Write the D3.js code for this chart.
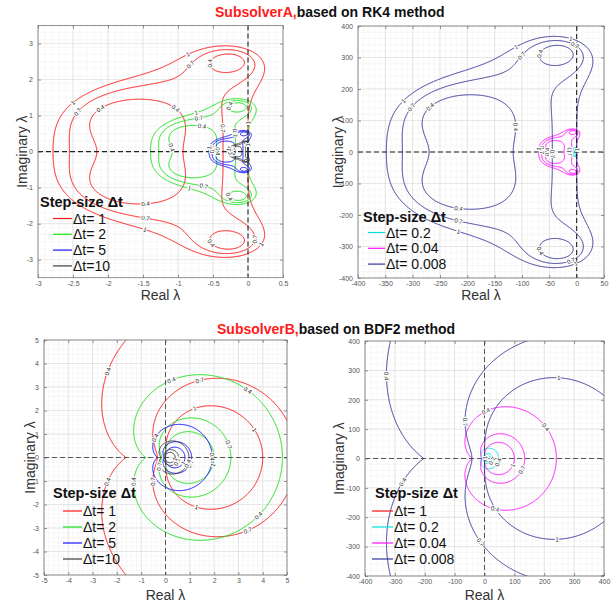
<!DOCTYPE html>
<html><head><meta charset="utf-8">
<script src="https://cdn.jsdelivr.net/npm/d3@7"></script>
<style>
body{margin:0;background:#fff}
svg{display:block}
text{font-family:"Liberation Sans",Arial,Helvetica,sans-serif}
</style>
</head><body>
<svg id="c" width="612" height="602"></svg>
<script>
// ---------------- data ----------------
const levels = [0.4, 0.7, 1];
const stepsA1 = [1, 2, 5, 10];
const stepsA2 = [0.2, 0.04, 0.008];
const stepsB1 = [1, 2, 5, 10];
const stepsB2 = [1, 0.2, 0.04, 0.008];
const legendA1 = ["\u0394t= 1", "\u0394t= 2", "\u0394t= 5", "\u0394t=10"];
const legendA2 = ["\u0394t= 0.2", "\u0394t= 0.04", "\u0394t= 0.008"];
const legendB1 = ["\u0394t= 1", "\u0394t= 2", "\u0394t= 5", "\u0394t=10"];
const legendB2 = ["\u0394t= 1", "\u0394t= 0.2", "\u0394t= 0.04", "\u0394t= 0.008"];
const xTicksA1 = [-3, -2.5, -2, -1.5, -1, -0.5, 0, 0.5];
const yTicksA1 = [-3, -2, -1, 0, 1, 2, 3];
const xTicksA2 = [-400, -350, -300, -250, -200, -150, -100, -50, 0, 50];
const yTicksA2 = [-400, -300, -200, -100, 0, 100, 200, 300, 400];
const ticksB1 = [-5, -4, -3, -2, -1, 0, 1, 2, 3, 4, 5];
const ticksB2 = [-400, -300, -200, -100, 0, 100, 200, 300, 400];
const titleA = ["SubsolverA,", "based on RK4 method"];
const titleB = ["SubsolverB,", "based on BDF2 method"];
const legendTitle = "Step-size \u0394t";
const xLabel = "Real \u03bb", yLabel = "Imaginary \u03bb";

// ------------- styles -------------
const colorOf = {"1":"#ff1414","2":"#18e018","5":"#1414ff","10":"#3a3a3a",
                 "0.2":"#00e0e0","0.04":"#ff14ff","0.008":"#35359a"};

// stability functions of the methods (z = lambda * dt)
function rk4Mag(x, y) {
  let re = 1/6 + x/24, im = y/24, t;
  t = re*x - im*y + 0.5; im = re*y + im*x; re = t;
  t = re*x - im*y + 1;   im = re*y + im*x; re = t;
  t = re*x - im*y + 1;   im = re*y + im*x; re = t;
  return Math.hypot(re, im);
}
function bdf2Mag(x, y) {
  // (3/2 - z) xi^2 - 2 xi + 1/2 = 0 -> max |xi|
  const ar = 1.5 - x, ai = -y;
  const am = Math.hypot(ar, ai);
  if (am < 1e-9) return 1e6;
  const wr = 1 - ar/2, wi = -ai/2;
  const m = Math.hypot(wr, wi);
  const sr = Math.sqrt(Math.max(0, (m + wr)/2));
  const si = Math.sqrt(Math.max(0, (m - wr)/2)) * (wi < 0 ? -1 : 1);
  const n1 = Math.hypot(1 + sr, si), n2 = Math.hypot(1 - sr, si);
  return Math.max(n1, n2) / am;
}

const panels = [
  {id:"a1", f:rk4Mag, zb:[-3.6,1.2,-3.8,3.8], box:[38,283,25.5,277.7], xd:[-3,0.5], yd:[-3.5,3.5],
   xt:xTicksA1, yt:yTicksA1, minor:[0.1,0.2], steps:stepsA1, leg:legendA1, zc:"#222", zw:1.1,
   lg:{x:40, y:207, l0:53, l1:72, tx:73, rows:[223.5,239.3,255.1,270.9]}, ylx:27, xly:300},
  {id:"a2", f:rk4Mag, zb:[-3.6,1.2,-3.8,3.8], box:[358,604,26,278], xd:[-400,50], yd:[-400,400],
   xt:xTicksA2, yt:yTicksA2, minor:[10,20], steps:stepsA2, leg:legendA2, zc:"#222", zw:1.1,
   lg:{x:363, y:221.5, l0:368, l1:385, tx:386, rows:[237.5,253.3,269.1]}, ylx:343, xly:300},
  {id:"b1", f:bdf2Mag, zb:[-11,13,-12,12], box:[44,287,340,575], xd:[-5,5], yd:[-5,5],
   xt:ticksB1, yt:ticksB1, minor:[0.2,0.2], steps:stepsB1, leg:legendB1, zc:"#444", zw:0.9,
   lg:{x:53, y:498, l0:63, l1:82, tx:83, rows:[516,532,548,564]}, ylx:35, xly:600},
  {id:"b2", f:bdf2Mag, zb:[-11,13,-12,12], box:[365,604,341,576], xd:[-400,400], yd:[-400,400],
   xt:ticksB2, yt:ticksB2, minor:[20,20], steps:stepsB2, leg:legendB2, zc:"#444", zw:0.9,
   lg:{x:375, y:498, l0:372, l1:393, tx:394, rows:[516,532,548,564]}, ylx:344, xly:600}
];

const svg = d3.select("#c");
const defs = svg.append("defs");

function contourLines(p, dt, sx, sy) {
  const padX = (p.xd[1]-p.xd[0])*0.03, padY = (p.yd[1]-p.yd[0])*0.03;
  const xa = Math.max(p.xd[0]-padX, p.zb[0]/dt), xb = Math.min(p.xd[1]+padX, p.zb[1]/dt);
  const ya = Math.max(p.yd[0]-padY, p.zb[2]/dt), yb = Math.min(p.yd[1]+padY, p.zb[3]/dt);
  const wpx = Math.abs(sx(xb)-sx(xa)), hpx = Math.abs(sy(yb)-sy(ya));
  const nx = Math.max(160, Math.min(520, Math.ceil(wpx*1.6)));
  const ny = Math.max(160, Math.min(520, Math.ceil(hpx*1.6)));
  const dx = (xb-xa)/(nx-1), dy = (yb-ya)/(ny-1);
  const vals = new Float64Array(nx*ny);
  for (let j=0;j<ny;j++){
    const y = ya + j*dy;
    for (let i=0;i<nx;i++) vals[i+j*nx] = p.f((xa+i*dx)*dt, y*dt);
  }
  const cs = d3.contours().size([nx,ny]).thresholds(levels)(vals);
  const isB = pt => pt[0] <= 0 || pt[0] >= nx || pt[1] <= 0 || pt[1] >= ny;
  const toPx = pt => [sx(xa + (pt[0]-0.5)*dx), sy(ya + (pt[1]-0.5)*dy)];
  const out = [];
  cs.forEach(c => {
    c.coordinates.forEach(poly => poly.forEach(ring => {
      let pts = ring.slice(0, -1);
      const b = pts.findIndex(isB);
      if (b < 0) { out.push({level:c.value, pts:ring.map(toPx)}); return; }
      pts = pts.slice(b).concat(pts.slice(0, b));
      let cur = [];
      for (const pt of pts) {
        if (isB(pt)) { if (cur.length > 1) out.push({level:c.value, pts:cur}); cur = []; }
        else cur.push(toPx(pt));
      }
      if (cur.length > 1) out.push({level:c.value, pts:cur});
    }));
  });
  return out;
}

function labelsFor(lines, p) {
  const [L,R,T,B] = p.box, m = 5, spacing = 125;
  const lgx0 = p.lg.x - 4, lgx1 = p.lg.tx + 72, lgy0 = p.lg.y - 16, lgy1 = p.lg.rows[p.lg.rows.length-1] + 5;
  const res = [];
  lines.forEach(ln => {
    const pts = ln.pts;
    const inside = (x,y) => x > L+m && x < R-m && y > T+m && y < B-m;
    const inLeg = (x,y) => x > lgx0 && x < lgx1 && y > lgy0 && y < lgy1;
    let total = 0;
    for (let i=1;i<pts.length;i++){
      const mx=(pts[i][0]+pts[i-1][0])/2, my=(pts[i][1]+pts[i-1][1])/2;
      if (inside(mx,my)) total += Math.hypot(pts[i][0]-pts[i-1][0], pts[i][1]-pts[i-1][1]);
    }
    if (total < 28) return;
    let acc = spacing - Math.min(45, total*0.3);
    for (let i=1;i<pts.length;i++){
      const mx=(pts[i][0]+pts[i-1][0])/2, my=(pts[i][1]+pts[i-1][1])/2;
      if (!inside(mx,my)) continue;
      acc += Math.hypot(pts[i][0]-pts[i-1][0], pts[i][1]-pts[i-1][1]);
      if (acc >= spacing && !inLeg(mx,my)) {
        acc = 0;
        const a = pts[Math.max(0,i-4)], b = pts[Math.min(pts.length-1,i+4)];
        let ang = Math.atan2(b[1]-a[1], b[0]-a[0]) * 180/Math.PI;
        if (ang > 90) ang -= 180; if (ang < -90) ang += 180;
        res.push({x:mx, y:my, ang, t:String(ln.level)});
      }
    }
  });
  return res;
}

function drawPanel(p) {
  const [L,R,T,B] = p.box;
  const g = svg.append("g");
  const sx = d3.scaleLinear().domain(p.xd).range([L,R]);
  const sy = d3.scaleLinear().domain(p.yd).range([B,T]);
  const clipId = "clip-"+p.id;
  defs.append("clipPath").attr("id", clipId).append("rect")
    .attr("x", L).attr("y", T).attr("width", R-L).attr("height", B-T);

  // minor grid
  const mx = [], my = [];
  const nmx = Math.round((p.xd[1]-p.xd[0])/p.minor[0]), nmy = Math.round((p.yd[1]-p.yd[0])/p.minor[1]);
  for (let i=1;i<nmx;i++) mx.push(p.xd[0]+i*p.minor[0]);
  for (let i=1;i<nmy;i++) my.push(p.yd[0]+i*p.minor[1]);
  const grid = g.append("g").attr("fill","none");
  grid.selectAll(".mx").data(mx).join("line").attr("x1",d=>sx(d)).attr("x2",d=>sx(d))
    .attr("y1",T).attr("y2",B).attr("stroke","#f1f1f1").attr("stroke-width",0.6);
  grid.selectAll(".my").data(my).join("line").attr("y1",d=>sy(d)).attr("y2",d=>sy(d))
    .attr("x1",L).attr("x2",R).attr("stroke","#f1f1f1").attr("stroke-width",0.6);
  grid.selectAll(".gx").data(p.xt).join("line").attr("x1",d=>sx(d)).attr("x2",d=>sx(d))
    .attr("y1",T).attr("y2",B).attr("stroke","#dedede").attr("stroke-width",0.7);
  grid.selectAll(".gy").data(p.yt).join("line").attr("y1",d=>sy(d)).attr("y2",d=>sy(d))
    .attr("x1",L).attr("x2",R).attr("stroke","#dedede").attr("stroke-width",0.7);

  // contours
  const cg = g.append("g").attr("clip-path", `url(#${clipId})`);
  const line = d3.line();
  let allLabels = [];
  p.steps.forEach(dt => {
    const lines = contourLines(p, dt, sx, sy);
    cg.append("g").selectAll("path").data(lines).join("path")
      .attr("d", d => line(d.pts)).attr("fill","none")
      .attr("stroke", colorOf[String(dt)]).attr("stroke-width", 1);
    allLabels = allLabels.concat(labelsFor(lines, p));
  });

  // zero lines
  cg.append("line").attr("x1", sx(0)).attr("x2", sx(0)).attr("y1", T).attr("y2", B)
    .attr("stroke",p.zc).attr("stroke-width",p.zw).attr("stroke-dasharray","5,3");
  cg.append("line").attr("y1", sy(0)).attr("y2", sy(0)).attr("x1", L).attr("x2", R)
    .attr("stroke",p.zc).attr("stroke-width",p.zw).attr("stroke-dasharray","5,3");

  // contour labels
  cg.append("g").selectAll("text").data(allLabels).join("text")
    .attr("transform", d => `translate(${d.x},${d.y}) rotate(${d.ang})`)
    .attr("text-anchor","middle").attr("dy","0.35em")
    .attr("font-size", 6).attr("fill","#222")
    .attr("stroke","#fff").attr("stroke-width",2.2).attr("paint-order","stroke")
    .text(d => d.t);

  // axes
  const fmt = d => String(d);
  const styleAxis = sel => {
    sel.select(".domain").remove();
    sel.selectAll(".tick line").attr("stroke","#666").attr("stroke-width",0.7);
    sel.selectAll(".tick text").attr("fill","#555").attr("font-size",7)
      .attr("font-family",'"Liberation Sans",Arial,sans-serif');
  };
  g.append("g").attr("transform",`translate(0,${B})`)
    .call(d3.axisBottom(sx).tickValues(p.xt).tickFormat(fmt).tickSize(-3).tickPadding(3)).call(styleAxis);
  g.append("g").attr("transform",`translate(0,${T})`)
    .call(d3.axisTop(sx).tickValues(p.xt).tickFormat("").tickSize(-3)).call(styleAxis);
  g.append("g").attr("transform",`translate(${L},0)`)
    .call(d3.axisLeft(sy).tickValues(p.yt).tickFormat(fmt).tickSize(-3).tickPadding(5)).call(styleAxis);
  g.append("g").attr("transform",`translate(${R},0)`)
    .call(d3.axisRight(sy).tickValues(p.yt).tickFormat("").tickSize(-3)).call(styleAxis);

  g.append("rect").attr("x",L).attr("y",T).attr("width",R-L).attr("height",B-T)
    .attr("fill","none").attr("stroke","#777").attr("stroke-width",0.8);

  // axis labels
  g.append("text").attr("x",(L+R)/2).attr("y",p.xly).attr("text-anchor","middle")
    .attr("font-size",14).attr("fill","#333").text(xLabel);
  g.append("text").attr("transform",`translate(${p.ylx},${(T+B)/2}) rotate(-90)`)
    .attr("text-anchor","middle").attr("font-size",14).attr("fill","#333").text(yLabel);

  // legend
  const lg = g.append("g");
  lg.append("text").attr("x",p.lg.x).attr("y",p.lg.y).attr("font-size",14.5)
    .attr("font-weight","bold").attr("fill","#111").text(legendTitle);
  p.steps.forEach((dt,i) => {
    const yy = p.lg.rows[i];
    lg.append("line").attr("x1",p.lg.l0).attr("x2",p.lg.l1).attr("y1",yy-5).attr("y2",yy-5)
      .attr("stroke",colorOf[String(dt)]).attr("stroke-width",1.2);
    lg.append("text").attr("x",p.lg.tx).attr("y",yy).attr("font-size",14)
      .attr("fill","#111").text(p.leg[i]);
  });
}

panels.forEach(drawPanel);

// titles
function title(parts, x, y) {
  const t = svg.append("text").attr("x",x).attr("y",y).attr("font-size",14).attr("font-weight","bold");
  t.append("tspan").attr("fill","#ff1a1a").text(parts[0]);
  t.append("tspan").attr("fill","#111").text(parts[1]);
}
title(titleA, 215, 17);
title(titleB, 217, 334);
</script>
</body></html>
